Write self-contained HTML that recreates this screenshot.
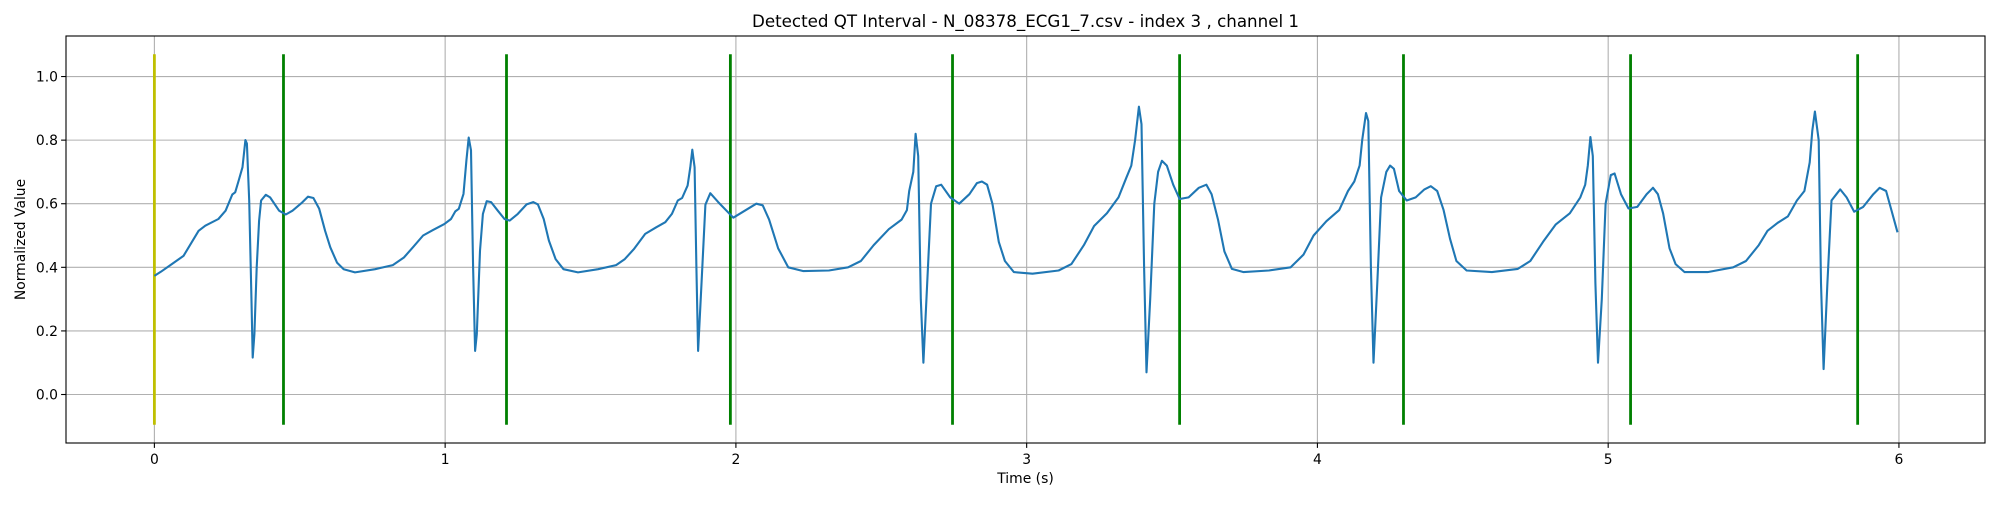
<!DOCTYPE html>
<html><head><meta charset="utf-8">
<style>
html,body{margin:0;padding:0;background:#fff;}
svg text{font-family:"DejaVu Sans","Liberation Sans",sans-serif;fill:#000;}
</style></head>
<body>
<svg id="chart" width="2000" height="500" viewBox="0 0 2000 500" xmlns="http://www.w3.org/2000/svg">
<rect width="2000" height="500" fill="#fff"/>
<g id="grid"></g>
<g id="vlines"></g>
<g id="series"></g>
<rect x="66" y="36" width="1919" height="407" fill="none" stroke="#000" stroke-width="1.1"/>
<g id="ticks"></g>
<text x="1025.5" y="27" font-size="16.7" text-anchor="middle">Detected QT Interval - N_08378_ECG1_7.csv - index 3 , channel 1</text>
<text x="1025.5" y="483" font-size="13.9" text-anchor="middle">Time (s)</text>
<text x="0" y="0" font-size="13.9" text-anchor="middle" transform="translate(25,239.5) rotate(-90)">Normalized Value</text>
</svg>
<script>
const xTicks = [0,1,2,3,4,5,6];
const yTicks = [0.0,0.2,0.4,0.6,0.8,1.0];
const yTickLabels = ["0.0","0.2","0.4","0.6","0.8","1.0"];
const qtStart = [0];
const qtEnd = [0.444,1.211,1.981,2.745,3.526,4.296,5.077,5.858];
const markerLow = -0.095, markerHigh = 1.07;
const times = [0,0.022,0.06,0.1,0.152,0.175,0.22,0.245,0.268,0.278,0.29,0.303,0.313,0.318,0.326,0.334,0.338,0.344,0.352,0.36,0.367,0.383,0.398,0.429,0.452,0.475,0.506,0.528,0.547,0.567,0.587,0.605,0.628,0.651,0.69,0.759,0.82,0.858,0.889,0.924,0.958,0.997,
1.02,1.035,1.047,1.063,1.073,1.081,1.089,1.096,1.103,1.109,1.12,1.13,1.143,1.158,1.181,1.204,1.222,1.25,1.28,1.303,1.319,1.339,1.357,1.38,1.407,1.457,1.526,1.588,1.618,1.649,1.688,1.726,1.757,1.78,1.8,1.815,1.834,1.843,1.85,1.858,1.864,1.87,
1.882,1.895,1.912,1.939,1.991,2.07,2.092,2.114,2.145,2.18,2.232,2.32,2.386,2.43,2.474,2.526,2.57,2.588,2.596,2.61,2.618,2.627,2.636,2.645,2.658,2.671,2.689,2.706,2.737,2.768,2.803,2.829,2.846,2.864,2.882,2.904,2.925,2.956,3.02,3.11,3.154,3.197,3.232,3.276,3.316,3.342,3.36,3.373,3.386,3.395,3.404,3.412,3.425,3.439,3.452,3.465,3.482,3.504,3.526,3.557,3.592,3.618,3.636,3.658,3.68,3.706,3.746,3.833,3.908,3.952,3.987,4.031,4.075,4.105,4.127,4.145,4.154,4.167,4.175,4.184,4.193,4.206,4.219,4.237,4.25,4.263,4.281,4.307,4.338,4.368,4.39,4.412,4.434,4.456,4.478,4.513,4.6,4.689,4.732,4.776,4.82,4.868,4.904,4.921,4.93,4.939,4.947,4.956,4.965,4.978,4.991,5.009,5.022,5.044,5.07,5.1,5.132,5.154,5.171,5.189,5.211,5.232,5.263,5.342,5.43,5.474,5.518,5.548,5.583,5.618,5.649,5.675,5.693,5.702,5.711,5.724,5.732,5.741,5.754,5.768,5.785,5.798,5.82,5.846,5.877,5.912,5.934,5.956,5.974,5.995];
const values = [0.373,0.386,0.41,0.436,0.515,0.531,0.552,0.578,0.629,0.636,0.673,0.715,0.8,0.789,0.61,0.294,0.116,0.19,0.4,0.547,0.61,0.628,0.62,0.578,0.566,0.578,0.602,0.622,0.618,0.584,0.515,0.463,0.415,0.394,0.384,0.394,0.407,0.431,0.463,0.5,0.517,0.536,
0.552,0.576,0.584,0.631,0.736,0.808,0.768,0.4,0.137,0.19,0.452,0.568,0.608,0.605,0.578,0.552,0.547,0.568,0.598,0.605,0.598,0.552,0.484,0.426,0.394,0.384,0.394,0.407,0.426,0.457,0.505,0.526,0.542,0.568,0.61,0.618,0.657,0.715,0.77,0.715,0.4,0.137,
0.355,0.597,0.633,0.605,0.556,0.6,0.595,0.55,0.46,0.4,0.388,0.39,0.4,0.42,0.47,0.52,0.55,0.58,0.64,0.7,0.82,0.75,0.3,0.1,0.35,0.6,0.655,0.66,0.62,0.6,0.63,0.665,0.67,0.66,0.6,0.48,0.42,0.385,0.38,0.39,0.41,0.47,0.53,0.57,0.62,0.68,0.72,0.8,0.905,0.85,0.4,0.07,0.3,0.6,0.7,0.735,0.72,0.66,0.615,0.62,0.65,0.66,0.63,0.55,0.45,0.395,0.385,0.39,0.4,0.44,0.5,0.545,0.58,0.64,0.67,0.72,0.8,0.885,0.86,0.4,0.1,0.35,0.62,0.7,0.72,0.71,0.64,0.61,0.62,0.645,0.655,0.64,0.58,0.49,0.42,0.39,0.385,0.395,0.42,0.48,0.535,0.57,0.62,0.66,0.72,0.81,0.75,0.35,0.1,0.3,0.6,0.69,0.695,0.63,0.585,0.59,0.63,0.65,0.63,0.57,0.46,0.41,0.385,0.385,0.4,0.42,0.47,0.515,0.54,0.56,0.61,0.64,0.73,0.83,0.89,0.8,0.35,0.08,0.35,0.61,0.63,0.645,0.62,0.575,0.59,0.63,0.65,0.64,0.58,0.51];

const L=66,R=1985,T=36,B=443, xMin=-0.304,xMax=6.296,yMin=-0.1525,yMax=1.1275;
function sx(t){return L+(t-xMin)/(xMax-xMin)*(R-L);}
function sy(v){return B-(v-yMin)/(yMax-yMin)*(B-T);}
const NS="http://www.w3.org/2000/svg";
function mk(tag,attrs,parent){const e=document.createElementNS(NS,tag);for(const k in attrs)e.setAttribute(k,attrs[k]);parent.appendChild(e);return e;}
const grid=document.getElementById('grid'),ticks=document.getElementById('ticks'),vl=document.getElementById('vlines'),ser=document.getElementById('series');
xTicks.forEach(t=>{
  const g=mk('line',{x1:sx(t),x2:sx(t),y1:T,y2:B,stroke:'#b0b0b0','stroke-width':1.1},grid);
  
  
  const tk=mk('line',{x1:sx(t),x2:sx(t),y1:B,y2:B+4.9,stroke:'#000','stroke-width':1.1},ticks);
  
  
  const lb=mk('text',{x:sx(t),y:B+21,'font-size':13.9,'text-anchor':'middle'},ticks);
  lb.textContent=String(t);
  
  
});
yTicks.forEach((v,i)=>{
  const g=mk('line',{x1:L,x2:R,y1:sy(v),y2:sy(v),stroke:'#b0b0b0','stroke-width':1.1},grid);
  
  
  const tk=mk('line',{x1:L-4.9,x2:L,y1:sy(v),y2:sy(v),stroke:'#000','stroke-width':1.1},ticks);
  
  
  const lb=mk('text',{x:L-8,y:sy(v)+5,'font-size':13.9,'text-anchor':'end'},ticks);
  lb.textContent=yTickLabels[i];
  
  
});
qtStart.forEach(t=>{
  const l=mk('line',{x1:sx(t),x2:sx(t),y1:sy(markerLow),y2:sy(markerHigh),stroke:'#bfbf00','stroke-width':2.8},vl);
  
  
});
qtEnd.forEach(t=>{
  const l=mk('line',{x1:sx(t),x2:sx(t),y1:sy(markerLow),y2:sy(markerHigh),stroke:'#008000','stroke-width':2.8},vl);
  
  
});
let d='';
times.forEach((t,i)=>{d+=(i?'L':'M')+sx(t).toFixed(1)+','+sy(values[i]).toFixed(1);});
const p=mk('path',{d:d,fill:'none',stroke:'#1f77b4','stroke-width':2.1,'stroke-linejoin':'round'},ser);


</script>
</body></html>
